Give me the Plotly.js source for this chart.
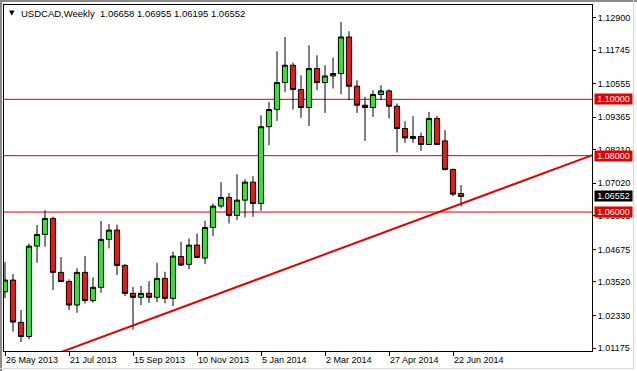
<!DOCTYPE html>
<html><head><meta charset="utf-8">
<script src="https://cdn.plot.ly/plotly-3.0.1.min.js"></script>
<style>
html,body{margin:0;padding:0;background:#fff;}
#wrap{position:relative;width:637px;height:371px;overflow:hidden;background:#fff;}
#chart{position:absolute;left:0;top:0;width:637px;height:371px;}
.fr{position:absolute;}
</style></head><body>
<div id="wrap"><div id="chart"></div>
<div class="fr" style="left:0;top:0;width:637px;height:2px;background:#8a8a8a"></div>
<div class="fr" style="left:0;top:0;width:2px;height:371px;background:#8a8a8a"></div>
<div class="fr" style="left:633px;top:0;width:1px;height:369px;background:#d8d8d8"></div>
<div class="fr" style="left:0;top:368px;width:634px;height:1px;background:#d8d8d8"></div>
</div>
<script>
const weeks = ['2013-05-26','2013-06-02','2013-06-09','2013-06-16','2013-06-23','2013-06-30',
'2013-07-07','2013-07-14','2013-07-21','2013-07-28','2013-08-04','2013-08-11','2013-08-18','2013-08-25',
'2013-09-01','2013-09-08','2013-09-15','2013-09-22','2013-09-29','2013-10-06','2013-10-13','2013-10-20','2013-10-27',
'2013-11-03','2013-11-10','2013-11-17','2013-11-24','2013-12-01','2013-12-08','2013-12-15','2013-12-22','2013-12-29',
'2014-01-05','2014-01-12','2014-01-19','2014-01-26','2014-02-02','2014-02-09','2014-02-16','2014-02-23',
'2014-03-02','2014-03-09','2014-03-16','2014-03-23','2014-03-30','2014-04-06','2014-04-13','2014-04-20','2014-04-27',
'2014-05-04','2014-05-11','2014-05-18','2014-05-25','2014-06-01','2014-06-08','2014-06-15','2014-06-22','2014-06-29'];

const openP = [1.03171,1.03586,1.02086,1.01583,1.04791,1.05206,1.05774,1.03859,1.03533,1.02700,
1.03859,1.02859,1.03327,1.05029,1.05359,1.04107,1.03114,1.02973,1.03114,1.02973,
1.03646,1.02937,1.04419,1.04143,1.04827,1.04366,1.05454,1.06210,1.06518,1.05880,
1.06422,1.07061,1.06305,1.09028,1.09638,1.10595,1.11209,1.10347,1.09709,1.11092,
1.10595,1.10829,1.10914,1.12212,1.10464,1.09791,1.09709,1.10170,1.10298,1.09755,
1.08965,1.08610,1.08681,1.08397,1.09319,1.08525,1.07511,1.06658];
const highP = [1.04224,1.03799,1.02522,1.04887,1.05536,1.06068,1.05837,1.04401,1.03611,1.04001,
1.04437,1.03682,1.05678,1.05571,1.05553,1.04153,1.03338,1.03373,1.03550,1.04199,
1.03880,1.04589,1.04944,1.05064,1.05242,1.05688,1.06305,1.07061,1.06681,1.07344,
1.07167,1.07273,1.09436,1.09908,1.11705,1.12212,1.11305,1.10854,1.11918,1.11563,
1.11209,1.11482,1.12744,1.12414,1.10677,1.10085,1.10322,1.10500,1.10358,1.09851,
1.09223,1.09401,1.08823,1.09553,1.09411,1.08904,1.07546,1.06955];
const lowP = [1.02948,1.01753,1.01388,1.01483,1.04199,1.04767,1.03231,1.03515,1.02522,1.02427,
1.02753,1.02788,1.03136,1.04710,1.03763,1.03019,1.01831,1.02700,1.02770,1.02806,
1.02760,1.02664,1.04082,1.03965,1.04355,1.04153,1.05146,1.06128,1.05596,1.05713,
1.05809,1.05830,1.06043,1.08372,1.09234,1.10262,1.09638,1.09347,1.09053,1.10322,
1.09518,1.10383,1.10181,1.09968,1.09518,1.08525,1.09376,1.09968,1.09319,1.08114,
1.08454,1.08454,1.08170,1.08372,1.08372,1.07475,1.06564,1.06195];
const closeP = [1.03586,1.02097,1.01583,1.04791,1.05206,1.05774,1.03859,1.03533,1.02700,1.03859,
1.02859,1.03327,1.05029,1.05359,1.04107,1.03114,1.02973,1.03114,1.02973,1.03646,
1.02937,1.04437,1.04118,1.04827,1.04391,1.05454,1.06210,1.06518,1.05880,1.06422,
1.07061,1.06305,1.09028,1.09638,1.10595,1.11209,1.10347,1.09709,1.11092,1.10595,
1.10829,1.10914,1.12212,1.10464,1.09791,1.09709,1.10170,1.10298,1.09755,1.08965,
1.08631,1.08681,1.08397,1.09319,1.08397,1.07511,1.06635,1.06552];

const trendDates = ['2013-05-26','2014-12-28'];
const trendPrices = [1.00293,1.09027];

const levels = [1.10,1.08,1.06];
const levelLabels = ['1.10000','1.08000','1.06000'];
const lastPrice = 1.06552;
const lastLabel = '1.06552';

const xTickDates = ['2013-05-26','2013-07-21','2013-09-15','2013-11-10','2014-01-05','2014-03-02','2014-04-27','2014-06-22'];
const xTickLabels = ['26 May 2013','21 Jul 2013','15 Sep 2013','10 Nov 2013','5 Jan 2014','2 Mar 2014','27 Apr 2014','22 Jun 2014'];
const yTicks = [1.01175,1.02330,1.03520,1.04675,1.05865,1.07020,1.08210,1.09365,1.10555,1.11745,1.12900];
const yTickLabels = ['1.01175','1.02330','1.03520','1.04675','1.05865','1.07020','1.08210','1.09365','1.10555','1.11745','1.12900'];

const titleText = 'USDCAD,Weekly\u00a0 1.06658 1.06955 1.06195 1.06552';

const FONT = 'Liberation Sans, Arial, sans-serif';

const traces = [
 {type:'candlestick', x:weeks, open:openP, high:highP, low:lowP, close:closeP,
  increasing:{line:{color:'#000000', width:1}, fillcolor:'#33e033'},
  decreasing:{line:{color:'#000000', width:1}, fillcolor:'#e01b1b'},
  whiskerwidth:0, hoverinfo:'skip', showlegend:false},
 {type:'scatter', mode:'lines', x:trendDates, y:trendPrices,
  line:{color:'#e80000', width:2}, hoverinfo:'skip', showlegend:false}
];

const shapes = levels.map(v => ({type:'line', xref:'paper', x0:0, x1:1, yref:'y', y0:v, y1:v,
  line:{color:'#d40000', width:1}, layer:'below'}));

const annotations = levels.map((v,i) => ({xref:'paper', x:1, xanchor:'left', xshift:2,
  yref:'y', y:v, yanchor:'middle', text:levelLabels[i], showarrow:false,
  bgcolor:'#e60000', font:{family:FONT, size:9, color:'#ffffff'}, width:37, height:10,
  borderpad:0, align:'center'}));
annotations.push({xref:'paper', x:1, xanchor:'left', xshift:2, yref:'y', y:lastPrice, yanchor:'middle',
  text:lastLabel, showarrow:false, bgcolor:'#000000', font:{family:FONT, size:9, color:'#ffffff'},
  width:37, height:10, borderpad:0, align:'center'});
annotations.push({xref:'paper', x:0, xanchor:'left', xshift:16, yref:'paper', y:1, yanchor:'middle', yshift:-8,
  text:titleText, showarrow:false, font:{family:FONT, size:9.5, color:'#000000'}, borderpad:0});
annotations.push({xref:'paper', x:0, xanchor:'center', xshift:8, yref:'paper', y:1, yanchor:'middle', yshift:-8,
  text:'\u25BC', showarrow:false, font:{family:'DejaVu Sans', size:7, color:'#000000'}, borderpad:0});

const layout = {
 width:637, height:371,
 margin:{l:4, r:45, t:5, b:20, pad:0},
 paper_bgcolor:'rgba(0,0,0,0)', plot_bgcolor:'#ffffff',
 showlegend:false,
 boxgap:0.35, boxgroupgap:0,
 font:{family:FONT, size:9, color:'#000'},
 xaxis:{type:'date', range:['2013-05-25 03:00','2014-10-21 15:00'], rangeslider:{visible:false},
  showgrid:false, zeroline:false, showline:true, mirror:true, linecolor:'#000', linewidth:1,
  ticks:'outside', ticklen:4, tickcolor:'#000', tickwidth:1,
  tickmode:'array', tickvals:xTickDates, ticktext:xTickLabels, ticklabelposition:'outside right',
  tickfont:{family:FONT, size:9, color:'#000'}, fixedrange:true},
 yaxis:{side:'right', range:[1.01069,1.13347], showgrid:false, zeroline:false, showline:true, mirror:true,
  linecolor:'#000', linewidth:1, ticks:'outside', ticklen:3, tickcolor:'#000', tickwidth:1,
  tickmode:'array', tickvals:yTicks, ticktext:yTickLabels,
  tickfont:{family:FONT, size:9, color:'#000'}, fixedrange:true},
 shapes:shapes,
 annotations:annotations
};

Plotly.newPlot('chart', traces, layout, {staticPlot:true, displayModeBar:false});
</script>
</body></html>
